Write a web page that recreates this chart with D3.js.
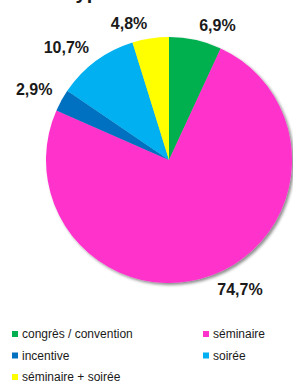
<!DOCTYPE html>
<html><head><meta charset="utf-8">
<script src="https://cdn.jsdelivr.net/npm/d3@7"></script>
<style>body{margin:0;background:#fff}svg{display:block}</style>
</head><body>
<script>
const categories = ["congrès / convention","séminaire","incentive","soirée","séminaire + soirée"];
const values = [6.9, 74.7, 2.9, 10.7, 4.8];
const labels = ["6,9%","74,7%","2,9%","10,7%","4,8%"];
const colors = ["#00b050","#ff33cc","#0070c0","#00b0f0","#ffff00"];
const title = "Type d'événement";

const W=293,H=381;
const svg=d3.select("body").append("svg").attr("width",W).attr("height",H);
const defs=svg.append("defs");
const f=defs.append("filter").attr("id","sh").attr("x","-20%").attr("y","-20%").attr("width","150%").attr("height","150%");
f.append("feDropShadow").attr("dx",2).attr("dy",2).attr("stdDeviation",1.5).attr("flood-color","#000").attr("flood-opacity",0.45);

svg.append("text").attr("x",151).attr("y",-1.5).attr("text-anchor","middle")
  .attr("font-family","Liberation Sans, Arial, sans-serif").attr("font-weight","bold").attr("font-size",20)
  .attr("fill","#1a1a1a").text(title);

const cx=169,cy=160,R=123;
const pie=d3.pie().sort(null).value(d=>d)(values);
const arc=d3.arc().innerRadius(0).outerRadius(R);
const g=svg.append("g").attr("transform",`translate(${cx},${cy})`);
g.append("g").attr("filter","url(#sh)").selectAll("path").data(pie).join("path")
  .attr("d",arc).attr("fill",(d,i)=>colors[i]);

const lbl=g.selectAll("text.lbl").data(pie).join("text").attr("class","lbl")
  .attr("text-anchor","middle").attr("dominant-baseline","central")
  .attr("font-family","Liberation Sans, Arial, sans-serif").attr("font-weight","bold").attr("font-size",16)
  .attr("fill","#1a1a1a").text((d,i)=>labels[i]);
lbl.each(function(d){
  const t=d3.select(this), w=this.getComputedTextLength(), h=12;
  const a=(d.startAngle+d.endAngle)/2, s=Math.sin(a), c=-Math.cos(a), r=R+8;
  t.attr("x", r*s + Math.sign(s)*(w/2+2)).attr("y", r*c + Math.sign(c)*(h/2+1));
});

const leg=svg.append("g").attr("font-family","Liberation Sans, Arial, sans-serif").attr("font-size",12).attr("fill","#1a1a1a");
categories.forEach((c,i)=>{
  const col=i%2, row=Math.floor(i/2);
  const x=col?203:12, y=334+row*21.5;
  leg.append("rect").attr("x",x).attr("y",y-3).attr("width",6).attr("height",6).attr("fill",colors[i]);
  leg.append("text").attr("x",x+10).attr("y",y).attr("dominant-baseline","central").text(c);
});
</script>
</body></html>
